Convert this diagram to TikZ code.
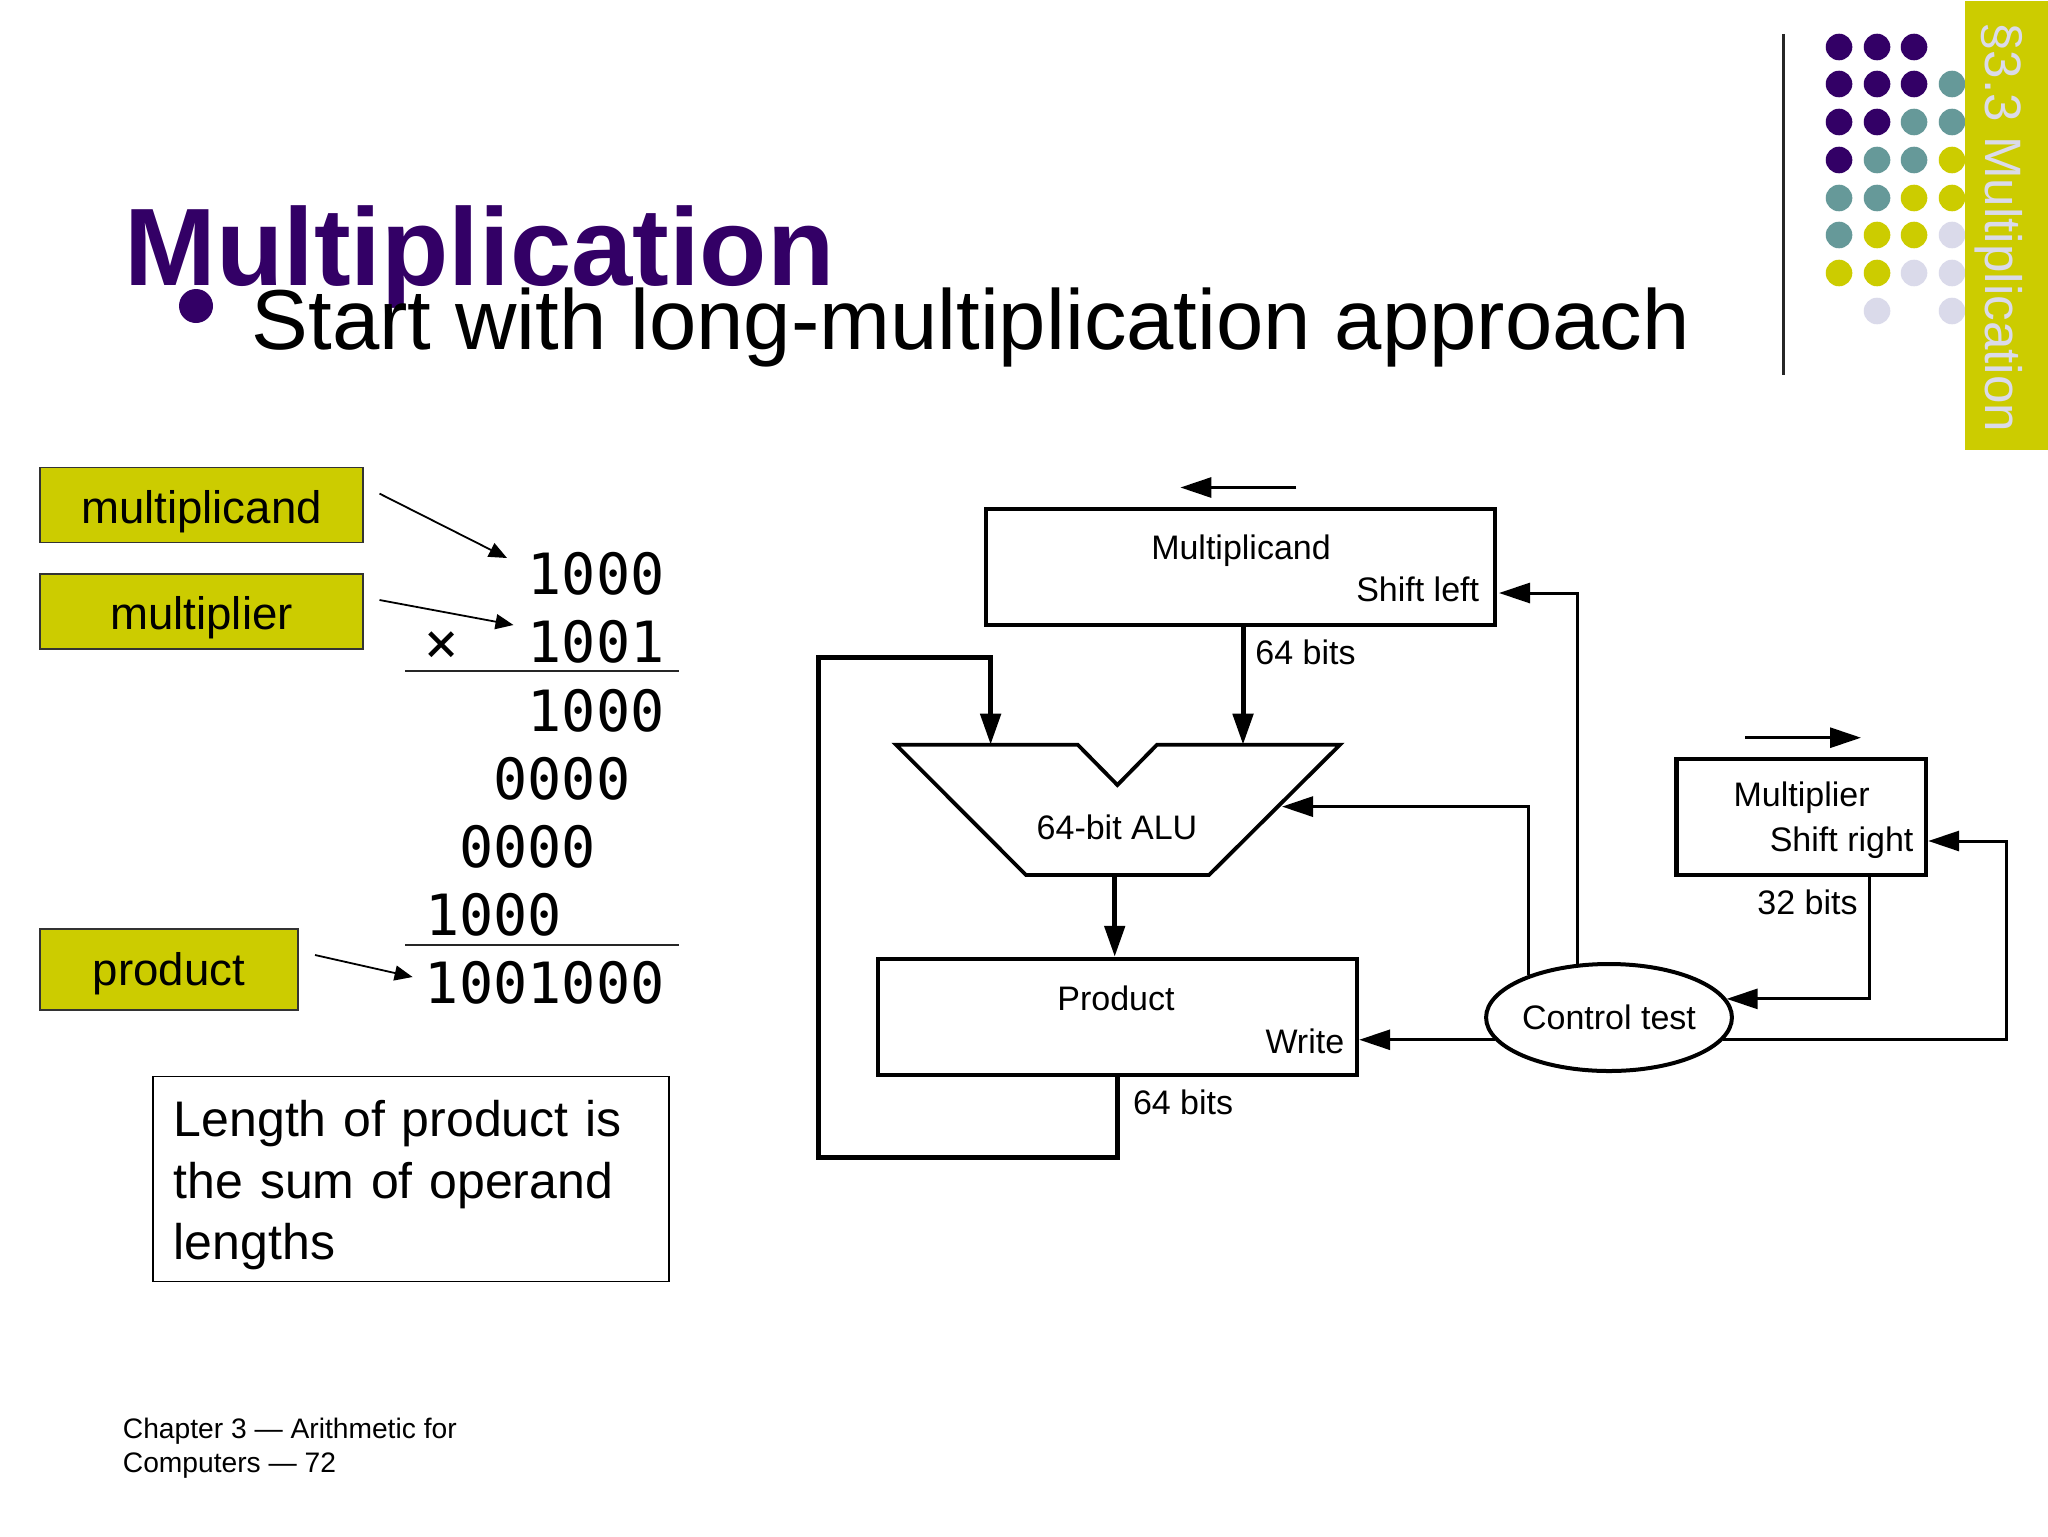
\documentclass[tikz,border=0pt]{standalone}
\usepackage{fontspec}
\setmainfont{Liberation Sans}
\newfontfamily\digitfont{DejaVu Sans Mono}
\usetikzlibrary{arrows.meta,shapes.geometric}
\definecolor{slidepurple}{HTML}{330066}
\definecolor{slideteal}{HTML}{669999}
\definecolor{slideolive}{HTML}{CCCC00}
\definecolor{slidelilac}{HTML}{DADAEA}
\tikzset{
  tagbox/.style={draw=black!80,line width=0.75pt,fill=slideolive,inner sep=0pt,minimum height=37.5pt,text height=18pt,text depth=0pt,font=\fontsize{22.8}{27}\selectfont},
  digitline/.style={inner sep=0pt,anchor=base east,font=\digitfont\fontsize{28.43}{34}\selectfont},
  tagarrow/.style={line width=0.9pt,-{Triangle[length=9pt,width=7.5pt]}},
  regbox/.style={draw,line width=2.2pt,inner sep=0pt,minimum height=58pt},
  flowtext/.style={inner sep=0pt,font=\fontsize{17}{20}\selectfont},
  busarrow/.style={line width=2.5pt,-{Triangle[length=15.5pt,width=10pt]}},
  ctlarrow/.style={line width=1.5pt,-{Triangle[length=15.5pt,width=10pt]}},
}
\begin{document}
\begin{tikzpicture}[x=0.5pt,y=0.5pt,yscale=-1,xscale=1]
        \useasboundingbox (0,0) rectangle (2048,1536);

        %Shape: Circles, purple
        \fill [slidepurple] (1839,47) circle (13.3) (1877,47) circle (13.3) (1914,47) circle (13.3)
            (1839,84) circle (13.3) (1877,84) circle (13.3) (1914,84) circle (13.3)
            (1839,122) circle (13.3) (1877,122) circle (13.3)
            (1839,160) circle (13.3);
        %Shape: Circles, teal
        \fill [slideteal] (1952,84) circle (13.3)
            (1914,122) circle (13.3) (1952,122) circle (13.3)
            (1877,160) circle (13.3) (1914,160) circle (13.3)
            (1839,198) circle (13.3) (1877,198) circle (13.3)
            (1839,235) circle (13.3);
        %Shape: Circles, olive
        \fill [slideolive] (1952,160) circle (13.3)
            (1914,198) circle (13.3) (1952,198) circle (13.3)
            (1877,235) circle (13.3) (1914,235) circle (13.3)
            (1839,273) circle (13.3) (1877,273) circle (13.3);
        %Shape: Circles, lilac
        \fill [slidelilac] (1952,235) circle (13.3)
            (1914,273) circle (13.3) (1952,273) circle (13.3)
            (1877,311) circle (13.3) (1952,311) circle (13.3);
        %Straight Lines
        \draw [line width=1.5pt,black!85] (1783,34) -- (1783,375);
        %Shape: Rectangle
        \fill [slideolive] (1965,1) rectangle (2048,450);

        % Text Node
        \node [anchor=base west,inner sep=0pt,rotate=-90,text=slidelilac,font=\fontsize{25.6}{30}\selectfont] (sect) at (1985,22) {§3.3 Multiplication};
        % Text Node
        \node [anchor=base west,inner sep=0pt,text=slidepurple,font=\bfseries\fontsize{55.1}{60}\selectfont] (title) at (124,285) {Multiplication};
        %Shape: Circle
        \fill [slidepurple] (196,306) circle (17);
        % Text Node
        \node [anchor=base west,inner sep=0pt,font=\fontsize{42.55}{50}\selectfont] (subtitle) at (251.5,349) {Start with long-multiplication approach};

        % Tag boxes
        \node [tagbox,minimum width=161.5pt] (tagcand) at (201.5,505) {multiplicand};
        \node [tagbox,minimum width=161.5pt] (tagplier) at (201.5,611.5) {multiplier};
        \node [tagbox,minimum width=129pt,minimum height=40.5pt,text height=15.6pt] (tagprod) at (169,969.5) {product};

        % Long multiplication
        \node [digitline] (rowa) at (665,594.3) {1000};
        \node [digitline] (rowb) at (665,662.3) {×~~1001};
        \node [digitline] (rowc) at (665,731) {1000};
        \node [digitline] (rowd) at (630.8,799.1) {0000};
        \node [digitline] (rowe) at (596.6,867.3) {0000};
        \node [digitline] (rowf) at (562.4,935.7) {1000};
        \node [digitline] (rowg) at (665,1003.9) {1001000};
        %Straight Lines
        \coordinate (rulea) at (405,671);
        \coordinate (ruleb) at (405,945);
        \draw [line width=0.9pt,black!85] (rulea) -- ++(274,0);
        \draw [line width=0.9pt,black!85] (ruleb) -- ++(274,0);

        %Straight Lines
        \coordinate (candfrom) at (379.5,493.6);
        \coordinate (candto) at (507,558);
        \coordinate (plierfrom) at (379.5,600);
        \coordinate (plierto) at (513.5,625);
        \coordinate (prodfrom) at (315,955);
        \coordinate (prodto) at (412.6,977);
        \draw [tagarrow] (candfrom) -- (candto);
        \draw [tagarrow] (plierfrom) -- (plierto);
        \draw [tagarrow] (prodfrom) -- (prodto);

        % Text Node
        \node [draw,line width=0.85pt,anchor=north west,inner ysep=0pt,inner xsep=10.5pt,text width=237pt,minimum height=102.5pt,align=left,font=\fontsize{25}{30.7}\selectfont] (note) at (152,1075.5) {\rule{0pt}{24.7pt}Length of product is\\the sum of operand\\lengths};
        % Text Node
        \node [anchor=base west,inner sep=0pt,align=left,font=\fontsize{14.1}{17}\selectfont] (footera) at (122.5,1438) {Chapter 3 — Arithmetic for};
        \node [anchor=base west,inner sep=0pt,align=left,font=\fontsize{14.1}{17}\selectfont] (footerb) at (122.5,1472) {Computers — 72};

        % Registers
        \node [regbox,minimum width=254.5pt] (mcand) at (1240.5,567) {};
        \node [regbox,minimum width=239.5pt] (prod) at (1117.5,1017) {};
        \node [regbox,minimum width=124.75pt] (mplier) at (1801.25,817) {};
        \node [draw,ellipse,line width=2pt,inner sep=0pt,minimum width=122pt,minimum height=53.5pt,font=\fontsize{17}{20}\selectfont,yshift=-0.25pt] (ctrl) at (1609,1017) {Control test};

        %Shape: Polygon
        \draw [line width=1.9pt,line join=miter] (896,744.7) -- (1077.7,744.7) -- (1117.4,785) -- (1157,744.7) -- (1340,744.7) -- (1209,875) -- (1026,875) -- cycle;

        % Text Node
        \node [flowtext,anchor=base] (lblcand) at (1241,559) {Multiplicand};
        \node [flowtext,anchor=base east] (shl) at (1479.5,601) {Shift left};
        \node [flowtext,anchor=base west] (bitsa) at (1255,664) {64 bits};
        \node [flowtext,anchor=base] (lblalu) at (1117,839) {64-bit ALU};
        \node [flowtext,anchor=base] (lblprod) at (1116,1010.5) {Product};
        \node [flowtext,anchor=base east] (lblwrite) at (1344.6,1053.7) {Write};
        \node [flowtext,anchor=base west] (bitsb) at (1132.6,1114) {64 bits};
        \node [flowtext,anchor=base] (lblplier) at (1801.6,806) {Multiplier};
        \node [flowtext,anchor=base east] (shr) at (1913.8,851.7) {Shift right};
        \node [flowtext,anchor=base west] (bitsc) at (1757,914) {32 bits};

        \coordinate (aluina) at (990.6,744.7);
        \coordinate (aluinb) at (1243,744.7);
        \coordinate (aluout) at (1114.7,875);
        \coordinate (aluctl) at (1282,806.6);
        \coordinate (fbbottom) at (818,1157);
        \coordinate (fbtop) at (818,657);
        \coordinate (mplierout) at (1869.4,875);
        \coordinate (ctrlfar) at (2006.4,841);
        \coordinate (shlin) at (1499,593);
        \coordinate (leftfrom) at (1296.4,487.5);
        \coordinate (leftto) at (1180.4,487.5);
        \coordinate (rightfrom) at (1745,737.7);
        \coordinate (rightto) at (1861,737.7);

        %Straight Lines
        \draw [ctlarrow] (leftfrom) -- (leftto);
        \draw [ctlarrow] (rightfrom) -- (rightto);
        \draw [busarrow] (mcand.south -| aluinb) -- (aluinb);
        \draw [busarrow] (aluout) -- (prod.north -| aluout);
        \draw [busarrow,line join=miter] (prod.south) |- (fbbottom) -- (fbtop) -| (aluina);
        \draw [ctlarrow] (ctrl.120.7) |- (shlin);
        \draw [ctlarrow] (ctrl.152.6) |- (aluctl);
        \draw [ctlarrow] (ctrl.191.4) -- (prod.east |- ctrl.191.4);
        \draw [ctlarrow] (mplierout) |- (ctrl.9.3);
        \draw [ctlarrow] (ctrl.-11.4) -| (ctrlfar) -- (mplier.east |- ctrlfar);
\end{tikzpicture}
\end{document}
